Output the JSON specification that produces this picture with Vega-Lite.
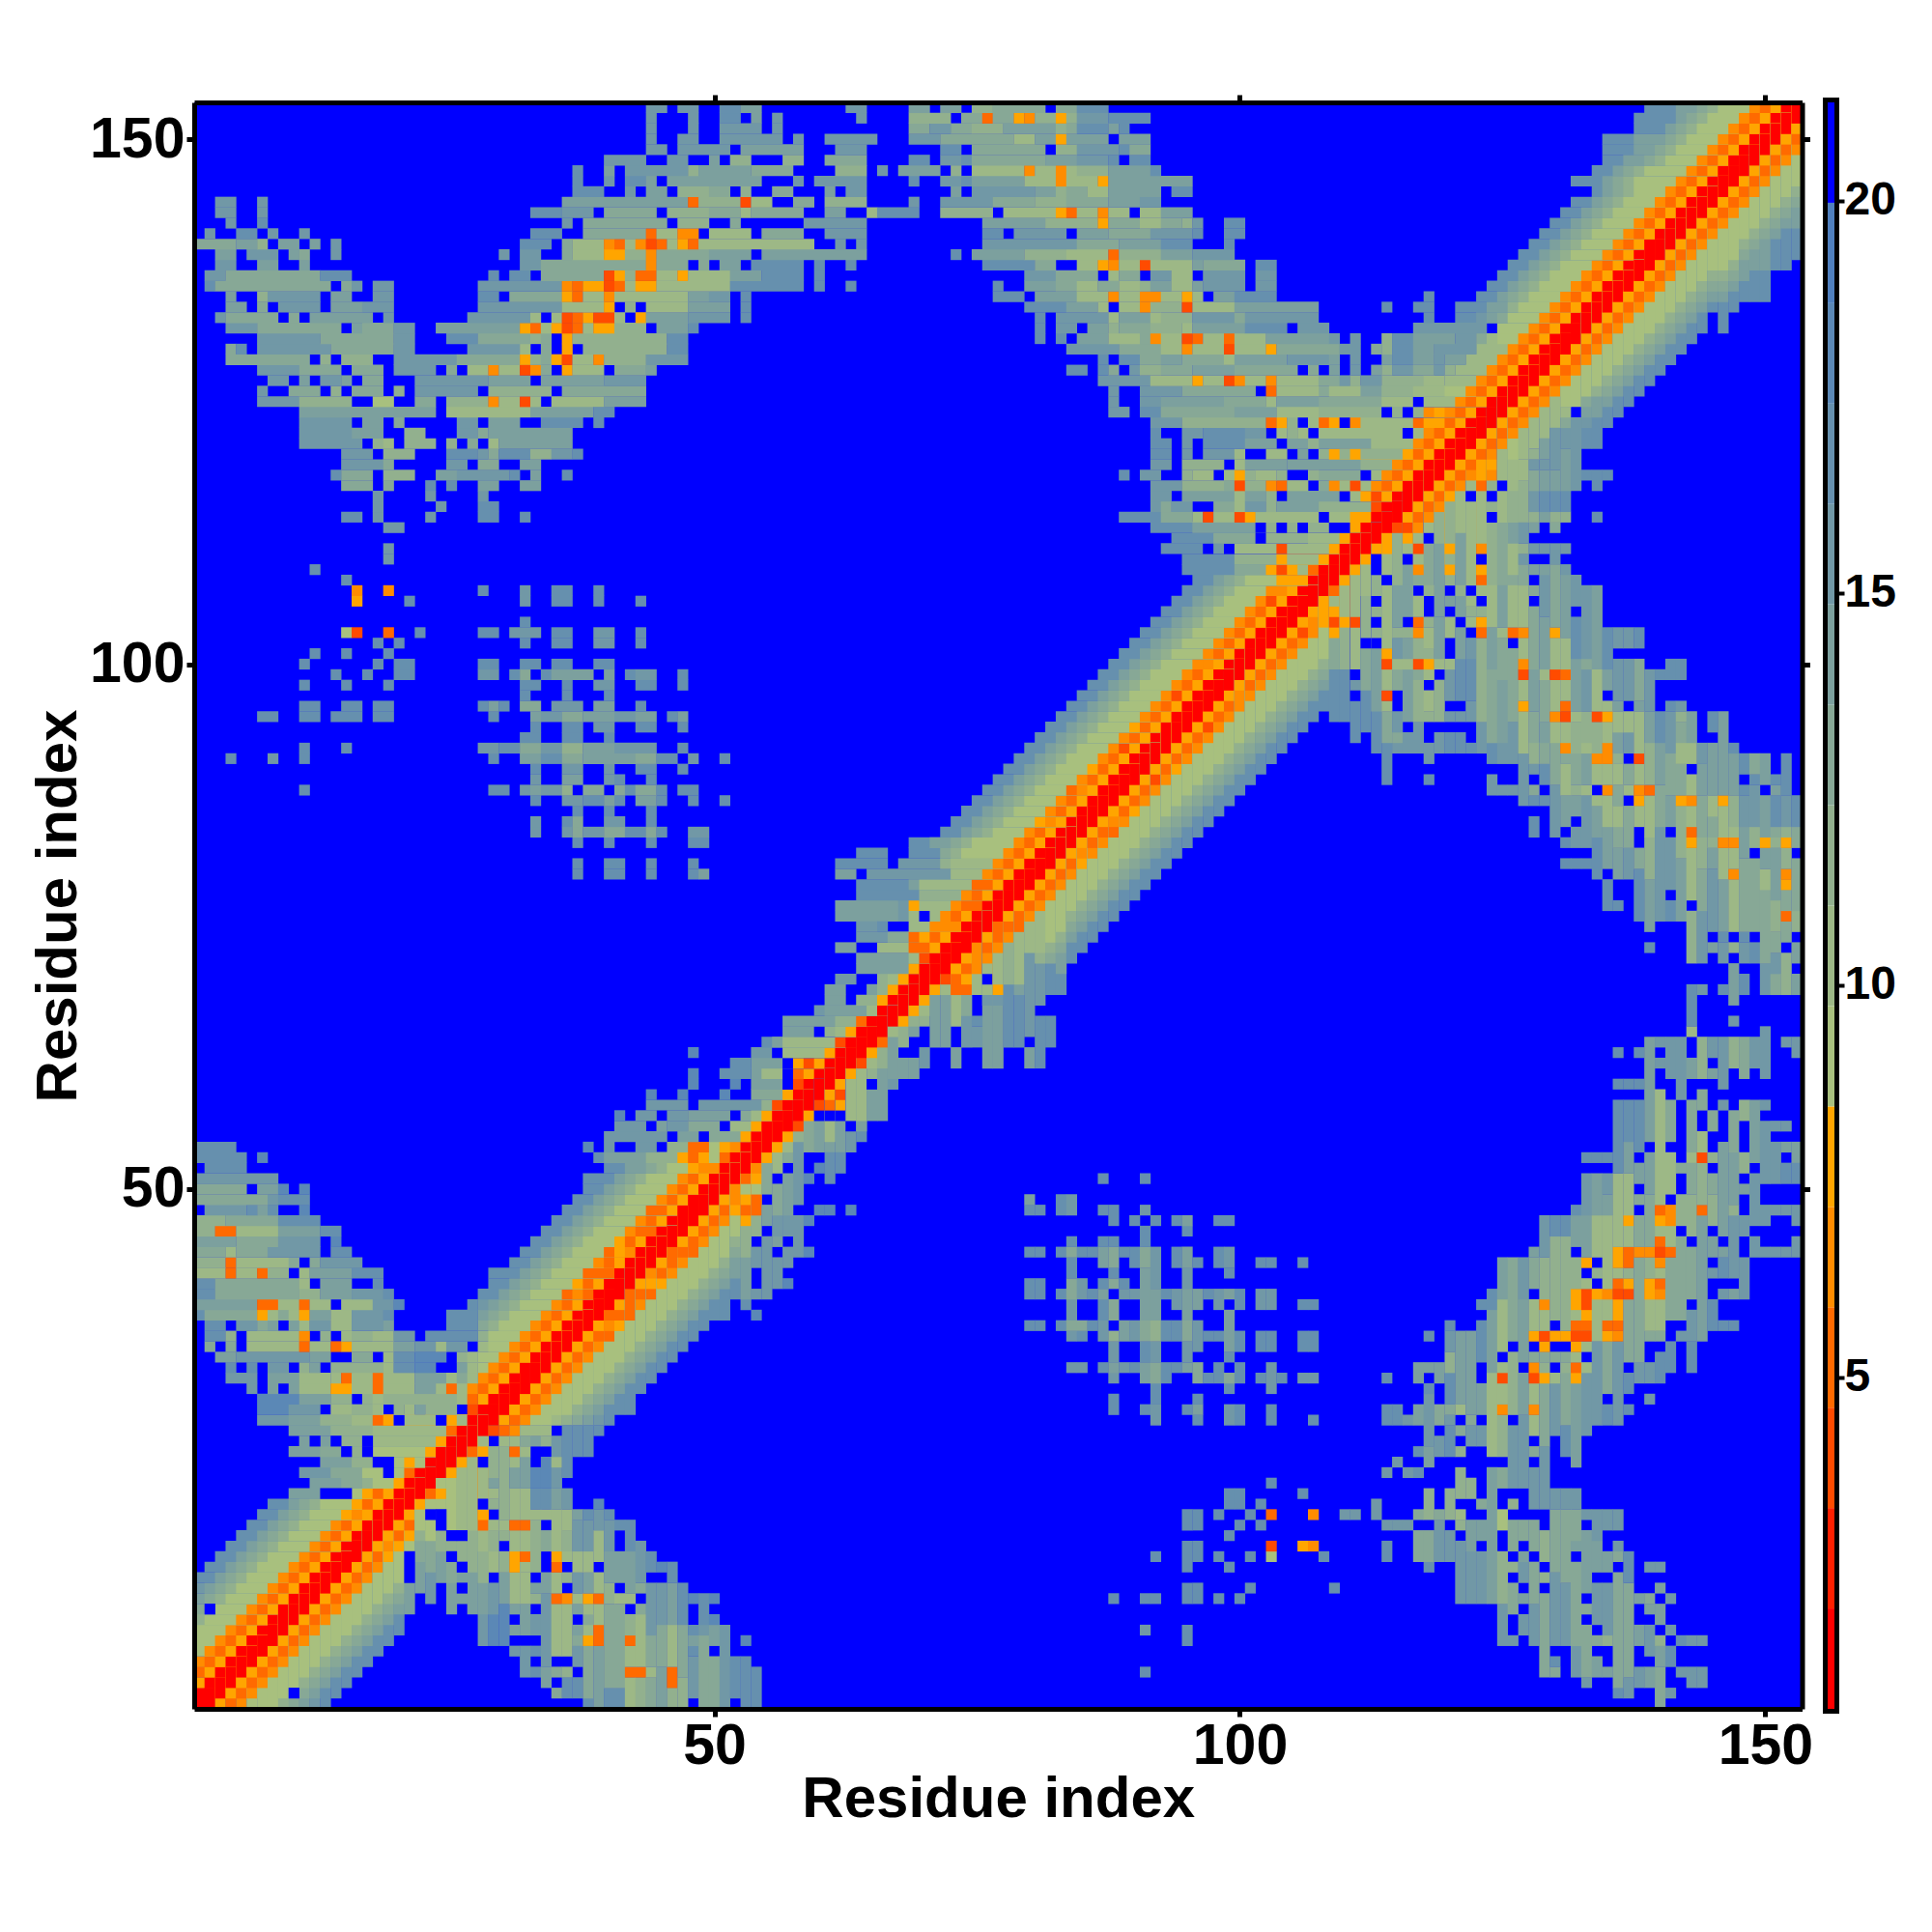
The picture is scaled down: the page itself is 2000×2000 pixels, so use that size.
{"$schema":"https://vega.github.io/schema/vega-lite/v6.json","background":"white","padding":{"left":30,"top":95,"right":0,"bottom":0},"spacing":10,"config":{"view":{"stroke":null},"axis":{"labelFont":"Liberation Sans","labelFontWeight":"bold","titleFont":"Liberation Sans","titleFontWeight":"bold","grid":false,"tickColor":"black","domainColor":"black","labelColor":"black","titleColor":"black"}},
"datasets":{
"band":[
{"y":1,"r":[[1,1]]},{"y":2,"r":[[1,1]]},{"y":3,"r":[[1,8],[2,1]]},{"y":4,"r":[[1,5],[2,8],[3,1]]},{"y":5,"r":[[1,7],[2,5],[3,8],[4,1]]},{"y":6,"r":[[1,9],[2,7],[3,5],[4,8],[5,1]]},{"y":7,"r":[[1,9],[3,7],[4,5],[5,8],[6,1]]},{"y":8,"r":[[1,9],[4,7],[5,5],[6,8],[7,1]]},{"y":9,"r":[[1,12],[2,9],[5,7],[6,5],[7,8],[8,1]]},{"y":10,"r":[[1,13],[2,12],[3,9],[6,7],[7,5],[8,8],[9,1]]},{"y":11,"r":[[1,14],[2,13],[3,12],[4,9],[7,7],[8,5],[9,8],[10,1]]},{"y":12,"r":[[1,15],[2,14],[3,13],[4,12],[5,9],[8,7],[9,5],[10,8],[11,1]]},
{"y":13,"r":[[1,17],[3,14],[4,13],[5,12],[6,9],[9,7],[10,5],[11,8],[12,1]]},{"y":14,"r":[[2,17],[4,14],[5,13],[6,12],[7,9],[10,7],[11,5],[12,8],[13,1]]},{"y":15,"r":[[3,17],[5,14],[6,13],[7,12],[8,9],[11,7],[12,5],[13,8],[14,1]]},{"y":16,"r":[[4,17],[6,14],[7,13],[8,12],[9,9],[12,7],[13,5],[14,8],[15,1]]},{"y":17,"r":[[5,17],[7,14],[8,13],[9,12],[10,9],[13,7],[14,5],[15,8],[16,1]]},{"y":18,"r":[[6,17],[8,14],[9,13],[10,12],[11,9],[14,7],[15,5],[16,8],[17,1]]},{"y":19,"r":[[7,17],[9,14],[10,13],[11,12],[12,9],[15,8],[16,7],[17,8],[18,1]]},{"y":20,"r":[[8,17],[10,14],[11,13],[12,12],[13,9],[16,8],[17,5],[18,8],[19,1]]},
{"y":21,"r":[[10,14],[13,13],[16,9],[17,8],[18,5],[19,8],[20,1]]},{"y":22,"r":[[12,14],[15,13],[17,12],[18,9],[20,8],[21,1]]},{"y":23,"r":[[11,15],[14,13],[17,9],[21,5],[22,1]]},{"y":24,"r":[[13,14],[16,12],[20,9],[21,8],[22,9],[23,1]]},{"y":25,"r":[[10,14],[13,13],[16,12],[18,9],[23,8],[24,1]]},{"y":26,"r":[[11,14],[15,12],[18,10],[24,8],[25,1]]},{"y":27,"r":[[10,14],[14,12],[18,10],[25,5],[26,1]]},{"y":28,"r":[[7,15],[10,14],[13,12],[16,10],[18,5],[19,8],[20,10],[25,8],[26,10],[27,1]]},
{"y":29,"r":[[28,1]]},{"y":30,"r":[[28,8],[29,1]]},{"y":31,"r":[[28,5],[29,8],[30,1]]},{"y":32,"r":[[28,7],[29,5],[30,8],[31,1]]},{"y":33,"r":[[28,9],[29,7],[30,5],[31,8],[32,1]]},{"y":34,"r":[[28,9],[30,7],[31,5],[32,8],[33,1]]},{"y":35,"r":[[28,10],[29,9],[31,7],[32,5],[33,8],[34,1]]},{"y":36,"r":[[28,12],[29,9],[32,7],[33,5],[34,8],[35,1]]},{"y":37,"r":[[28,13],[29,12],[30,9],[33,7],[34,5],[35,8],[36,1]]},{"y":38,"r":[[28,14],[29,13],[30,12],[31,9],[34,7],[35,5],[36,8],[37,1]]},{"y":39,"r":[[28,15],[29,14],[30,13],[31,12],[32,9],[35,7],[36,5],[37,8],[38,1]]},
{"y":40,"r":[[28,17],[30,14],[31,13],[32,12],[33,9],[36,5],[37,7],[38,5],[39,1]]},{"y":41,"r":[[29,17],[31,14],[32,13],[33,12],[34,9],[37,8],[38,5],[39,8],[40,1]]},{"y":42,"r":[[29,17],[32,14],[33,13],[34,12],[35,9],[38,5],[41,1]]},{"y":43,"r":[[31,17],[33,14],[34,13],[35,12],[36,9],[39,7],[40,5],[41,8],[42,1]]},{"y":44,"r":[[32,17],[34,14],[35,13],[36,12],[37,9],[40,5],[41,8],[42,7],[43,1]]},{"y":45,"r":[[33,17],[35,14],[36,13],[37,12],[38,9],[41,8],[42,5],[43,8],[44,1]]},{"y":46,"r":[[34,17],[36,14],[37,13],[38,12],[39,9],[42,7],[43,5],[45,1]]},{"y":47,"r":[[35,17],[37,14],[38,13],[39,12],[40,9],[43,7],[44,5],[45,8],[46,1]]},{"y":48,"r":[[36,17],[38,14],[39,13],[40,12],[41,9],[44,5],[46,8],[47,1]]},{"y":49,"r":[[37,17],[39,14],[40,13],[41,12],[42,9],[45,7],[46,5],[47,8],[48,1]]},{"y":50,"r":[[38,17],[40,14],[41,13],[42,12],[43,9],[46,7],[47,5],[48,8],[49,1]]},{"y":51,"r":[[38,17],[41,14],[42,13],[43,12],[44,9],[47,7],[48,5],[49,8],[50,1]]},{"y":52,"r":[[40,17],[42,14],[44,13],[45,12],[46,9],[48,8],[49,7],[51,1]]},
{"y":53,"r":[[39,17],[40,14],[44,12],[47,8],[48,5],[49,8],[50,9],[51,5],[52,1]]},{"y":54,"r":[[46,12],[48,5],[50,9],[51,8],[52,7],[53,1]]},{"y":55,"r":[[50,13],[53,8],[54,1]]},{"y":56,"r":[[52,11],[54,8],[55,1]]},{"y":57,"r":[[53,13],[54,11],[55,8],[56,1]]},{"y":58,"r":[[49,15],[55,12],[56,4],[57,1]]},{"y":59,"r":[[54,13],[57,8],[58,1]]},{"y":60,"r":[[54,14],[57,21],[58,4],[59,1]]},{"y":61,"r":[[54,14],[55,11],[57,21],[58,5],[59,8],[60,1]]},{"y":62,"r":[[54,14],[57,21],[58,8],[59,4],[60,8],[61,1]]},{"y":63,"r":[[54,15],[56,21],[57,11],[61,8],[62,1]]},{"y":64,"r":[[55,17],[56,14],[57,11],[62,4],[63,1]]},{"y":65,"r":[[57,14],[60,21],[61,12],[62,11],[63,8],[64,1]]},{"y":66,"r":[[57,14],[62,12],[64,5],[65,1]]},{"y":67,"r":[[60,15],[61,14],[65,11],[66,1]]},{"y":68,"r":[[64,12],[66,8],[67,1]]},{"y":69,"r":[[65,14],[66,12],[67,8],[68,1]]},{"y":70,"r":[[66,12],[67,10],[68,8],[69,1]]},{"y":71,"r":[[64,14],[69,8],[70,1]]},{"y":72,"r":[[64,14],[69,10],[70,4],[71,1]]},{"y":73,"r":[[66,10],[69,5],[71,8],[72,1]]},{"y":74,"r":[[64,15],[67,13],[69,5],[70,8],[71,5],[72,8],[73,1]]},{"y":75,"r":[[69,10],[71,7],[74,1]]},{"y":76,"r":[[62,14],[68,15],[69,10],[70,21],[71,10],[72,7],[73,5],[74,8],[75,1]]},{"y":77,"r":[[62,14],[68,15],[69,8],[70,10],[73,7],[74,5],[76,1]]},{"y":78,"r":[[64,17],[70,12],[74,7],[75,5],[76,8],[77,1]]},{"y":79,"r":[[64,17],[69,14],[70,11],[75,5],[77,8],[78,1]]},{"y":80,"r":[[65,15],[73,10],[76,7],[77,5],[78,8],[79,1]]},{"y":81,"r":[[68,15],[72,12],[73,10],[77,7],[78,5],[79,8],[80,1]]},{"y":82,"r":[[69,17],[72,13],[73,12],[74,9],[78,7],[79,5],[80,8],[81,1]]},{"y":83,"r":[[69,17],[71,14],[73,13],[74,12],[75,9],[79,7],[80,5],[81,8],[82,1]]},
{"y":84,"r":[[72,17],[74,14],[75,13],[76,12],[77,9],[80,7],[81,5],[82,8],[83,1]]},{"y":85,"r":[[73,17],[75,14],[76,13],[77,12],[78,9],[81,8],[82,7],[83,8],[84,1]]},{"y":86,"r":[[74,17],[76,14],[77,13],[78,12],[79,9],[82,7],[83,5],[84,8],[85,1]]},{"y":87,"r":[[75,17],[77,14],[78,13],[79,12],[80,9],[83,7],[84,5],[85,8],[86,1]]},{"y":88,"r":[[76,17],[78,14],[79,13],[80,12],[81,9],[84,5],[85,7],[86,8],[87,1]]},{"y":89,"r":[[77,17],[79,14],[80,13],[81,12],[82,9],[85,7],[86,5],[87,8],[88,1]]},{"y":90,"r":[[78,17],[80,14],[81,13],[82,12],[83,9],[86,8],[87,5],[88,8],[89,1]]},{"y":91,"r":[[79,17],[81,14],[82,13],[83,12],[84,9],[87,7],[88,5],[89,8],[90,1]]},{"y":92,"r":[[80,17],[82,14],[83,13],[84,12],[85,9],[88,7],[89,4],[90,8],[91,1]]},{"y":93,"r":[[81,17],[83,14],[84,13],[85,12],[86,9],[89,7],[90,5],[91,8],[92,1]]},{"y":94,"r":[[82,17],[84,14],[85,13],[86,12],[87,9],[90,8],[91,5],[92,8],[93,1]]},{"y":95,"r":[[83,17],[85,14],[86,13],[87,12],[88,9],[91,7],[92,5],[93,8],[94,1]]},{"y":96,"r":[[84,17],[86,14],[87,13],[88,12],[89,9],[92,7],[93,5],[94,8],[95,1]]},{"y":97,"r":[[85,17],[87,14],[88,13],[89,12],[90,9],[93,7],[94,4],[95,8],[96,1]]},{"y":98,"r":[[86,17],[88,14],[89,13],[90,12],[91,9],[94,7],[95,5],[96,8],[97,1]]},{"y":99,"r":[[87,17],[89,14],[90,13],[91,12],[92,9],[95,7],[96,5],[97,8],[98,1]]},{"y":100,"r":[[88,17],[90,14],[91,13],[92,12],[93,9],[96,7],[97,7],[98,8],[99,1]]},{"y":101,"r":[[89,17],[91,14],[92,13],[93,12],[94,9],[97,7],[98,5],[99,8],[100,1]]},{"y":102,"r":[[90,17],[92,14],[93,13],[94,12],[95,9],[98,7],[99,5],[100,8],[101,1]]},{"y":103,"r":[[91,17],[93,14],[94,13],[95,12],[96,9],[99,7],[100,5],[101,8],[102,1]]},{"y":104,"r":[[92,17],[94,14],[95,13],[96,12],[97,9],[100,7],[101,5],[102,8],[103,1]]},{"y":105,"r":[[93,17],[95,14],[96,13],[97,12],[98,9],[101,7],[102,5],[103,8],[104,1]]},{"y":106,"r":[[94,17],[96,14],[97,13],[98,12],[99,9],[102,7],[103,4],[104,8],[105,1]]},{"y":107,"r":[[95,17],[97,14],[98,13],[99,12],[100,9],[103,7],[105,8],[106,1]]},{"y":108,"r":[[96,17],[98,14],[99,13],[100,12],[101,9],[104,8],[107,1]]},
{"y":109,"r":[[95,17],[100,13],[103,8],[104,4],[105,8],[106,10],[107,5],[108,1]]},{"y":110,"r":[[95,17],[100,12],[104,8],[105,10],[108,8],[109,1]]},{"y":111,"r":[[93,17],[97,21],[98,15],[99,21],[100,11],[104,4],[105,10],[109,8],[110,1]]},{"y":112,"r":[[94,17],[98,13],[102,21],[103,12],[107,10],[110,8],[111,1]]},{"y":113,"r":[[92,17],[96,14],[102,21],[103,12],[104,21],[105,12],[106,21],[107,12],[109,21],[111,8],[112,1]]},{"y":114,"r":[[108,21],[109,10],[111,8],[113,1]]},{"y":115,"r":[[108,12],[113,4],[114,1]]},{"y":116,"r":[[108,14],[110,21],[111,11],[112,8],[113,4],[114,8],[115,1]]},{"y":117,"r":[[108,13],[109,7],[110,11],[111,4],[112,11],[113,7],[114,5],[115,8],[116,1]]},{"y":118,"r":[[108,13],[112,21],[113,11],[114,7],[115,5],[116,8],[117,1]]},{"y":119,"r":[[105,14],[112,12],[115,7],[116,5],[117,8],[118,1]]},{"y":120,"r":[[108,12],[109,8],[110,12],[111,8],[112,12],[116,8],[117,5],[118,8],[119,1]]},{"y":121,"r":[[108,14],[113,11],[117,7],[118,5],[119,8],[120,1]]},{"y":122,"r":[[108,11],[116,21],[117,10],[118,7],[119,5],[120,8],[121,1]]},{"y":123,"r":[[108,5],[109,8],[110,21],[111,7],[112,11],[117,5],[118,8],[120,5],[121,8],[122,1]]},{"y":124,"r":[[108,12],[114,21],[115,12],[116,21],[117,12],[118,7],[119,8],[120,7],[121,5],[122,8],[123,1]]},{"y":125,"r":[[108,13],[114,11],[117,21],[118,10],[121,7],[122,5],[123,8],[124,1]]},{"y":126,"r":[[108,13],[109,10],[112,14],[114,12],[117,11],[120,9],[122,7],[123,5],[124,8],[125,1]]},
{"y":127,"r":[[120,10],[123,7],[124,5],[125,8],[126,1]]},{"y":128,"r":[[121,10],[124,7],[125,5],[126,8],[127,1]]},{"y":129,"r":[[122,10],[125,7],[126,5],[127,8],[128,1]]},{"y":130,"r":[[123,10],[126,7],[127,5],[128,8],[129,1]]},{"y":131,"r":[[125,9],[127,7],[128,5],[129,8],[130,1]]},{"y":132,"r":[[125,9],[128,7],[129,5],[130,8],[131,1]]},{"y":133,"r":[[121,17],[123,15],[124,14],[125,13],[126,9],[129,7],[130,5],[131,8],[132,1]]},{"y":134,"r":[[121,17],[124,14],[126,12],[127,9],[130,7],[131,5],[132,8],[133,1]]},{"y":135,"r":[[123,17],[125,14],[126,13],[127,12],[128,9],[131,7],[132,5],[133,8],[134,1]]},{"y":136,"r":[[124,17],[126,14],[127,13],[128,12],[129,9],[132,7],[133,5],[134,8],[135,1]]},{"y":137,"r":[[125,17],[127,14],[128,13],[129,12],[130,9],[133,7],[134,5],[135,8],[136,1]]},{"y":138,"r":[[126,17],[128,14],[129,13],[130,12],[131,9],[134,7],[135,5],[136,8],[137,1]]},{"y":139,"r":[[127,17],[129,14],[130,13],[131,12],[132,9],[135,7],[136,5],[137,8],[138,1]]},{"y":140,"r":[[128,17],[130,14],[131,13],[132,12],[133,9],[136,7],[137,5],[138,8],[139,1]]},{"y":141,"r":[[129,17],[131,14],[132,13],[133,12],[134,9],[137,7],[138,5],[139,8],[140,1]]},{"y":142,"r":[[130,17],[132,14],[133,13],[134,12],[135,9],[138,7],[139,5],[140,8],[141,1]]},{"y":143,"r":[[131,17],[133,14],[134,13],[135,12],[136,9],[139,7],[140,5],[141,8],[142,1]]},{"y":144,"r":[[132,17],[134,14],[135,13],[136,12],[137,9],[140,7],[141,5],[142,8],[143,1]]},{"y":145,"r":[[134,17],[135,14],[136,13],[137,12],[138,9],[141,7],[142,5],[143,8],[144,1]]},{"y":146,"r":[[132,17],[135,14],[136,13],[137,12],[138,9],[142,7],[143,5],[144,8],[145,1]]},{"y":147,"r":[[134,17],[136,14],[137,13],[138,12],[139,9],[143,7],[144,5],[145,8],[146,1]]},{"y":148,"r":[[135,17],[137,14],[139,13],[140,12],[141,9],[144,7],[145,5],[146,8],[147,1]]},{"y":149,"r":[[135,17],[138,14],[140,13],[141,12],[142,9],[145,7],[146,5],[147,8],[148,1]]},{"y":150,"r":[[135,17],[138,14],[141,13],[142,12],[143,9],[146,7],[147,5],[148,8],[149,1]]},{"y":151,"r":[[138,17],[141,14],[142,13],[143,12],[144,9],[147,7],[148,5],[149,8],[150,1]]},{"y":152,"r":[[138,17],[142,14],[143,13],[144,12],[145,9],[148,7],[149,5],[150,8],[151,1]]},{"y":153,"r":[[139,17],[142,14],[144,13],[145,12],[146,9],[149,7],[150,5],[151,8],[152,1]]}
],
"cells":[
{"y":10,"r":[[2,2,21]]},{"y":21,"r":[[13,15,21]]},{"y":23,"r":[[19,19,21]]},{"y":24,"r":[[18,19,21]]},{"y":25,"r":[[15,15,21],[17,17,21]]},{"y":26,"r":[[12,12,21],[14,14,21],[17,17,21]]},{"y":28,"r":[[20,20,21],[24,24,21]]},
{"y":29,"r":[[7,9,18],[10,12,15],[14,15,10],[16,17,12],[18,18,10],[20,20,12],[21,21,10],[22,22,14],[23,25,12],[27,27,4]]},
{"y":30,"r":[[7,10,18],[11,13,14],[14,15,12],[17,17,12],[18,18,10],[19,25,12],[26,26,10],[27,27,5]]},
{"y":31,"r":[[6,6,15],[8,8,14],[10,10,14],[11,13,11],[14,15,8],[16,17,11],[18,18,5],[19,21,11],[22,23,14],[24,24,10],[25,25,5],[26,26,11],[27,27,7]]},
{"y":32,"r":[[4,6,15],[8,10,14],[11,13,11],[14,14,10],[15,15,5],[16,17,11],[18,18,5],[19,21,11],[22,24,14],[25,25,11],[26,26,13],[27,27,10]]},
{"y":33,"r":[[4,4,17],[6,6,17],[8,9,15],[11,11,12],[12,12,14],[14,18,12],[19,19,11],[20,21,17],[22,23,18],[26,26,14],[27,27,10]]},
{"y":34,"r":[[3,4,14],[5,11,15],[12,13,14],[16,17,13],[19,19,11],[20,21,17],[22,24,18],[26,26,12],[27,27,10]]},
{"y":35,"r":[[2,2,13],[4,4,13],[6,10,11],[11,11,5],[12,13,11],[14,14,5],[15,15,8],[16,19,10],[20,21,14],[22,23,15],[24,24,11],[25,26,15]]},
{"y":36,"r":[[2,3,17],[4,4,12],[6,10,11],[11,11,7],[13,13,12],[15,15,10],[16,17,12],[18,19,10],[20,21,15],[23,27,17]]},
{"y":37,"r":[[2,3,17],[5,6,15],[7,7,13],[8,8,14],[10,10,14],[11,11,11],[12,13,15],[14,15,11],[16,18,15],[19,19,14],[25,27,17]]},
{"y":38,"r":[[1,1,17],[2,6,13],[7,7,8],[8,8,11],[9,9,13],[10,10,11],[11,11,8],[12,13,14],[14,15,11],[16,18,15],[19,19,17],[25,27,17]]},
{"y":39,"r":[[1,6,14],[7,8,5],[9,10,10],[11,11,5],[12,13,10],[15,17,11],[18,19,15],[20,20,18],[27,27,17]]},
{"y":40,"r":[[1,2,17],[3,10,13],[11,12,12],[13,15,14],[16,18,15],[19,19,17]]},
{"y":41,"r":[[1,2,17],[3,10,13],[11,11,11],[13,15,14],[18,18,17]]},
{"y":42,"r":[[1,3,11],[4,4,5],[5,6,11],[7,7,5],[8,9,12],[11,11,11],[12,15,14],[16,18,17]]},
{"y":43,"r":[[1,3,12],[4,4,5],[5,9,11],[10,10,13],[12,12,13],[13,16,15]]},
{"y":44,"r":[[1,3,13],[4,4,11],[5,7,13],[8,12,15],[14,15,17]]},
{"y":45,"r":[[1,4,14],[5,8,13],[9,12,15],[14,14,18]]},
{"y":46,"r":[[1,2,12],[3,4,5],[5,8,11],[9,12,14],[13,14,17]]},
{"y":47,"r":[[1,3,12],[4,8,13],[9,12,17]]},
{"y":48,"r":[[2,5,15],[6,6,17],[7,7,14],[8,8,17],[11,11,18]]},
{"y":49,"r":[[1,7,13],[8,8,15],[9,11,17]]},
{"y":50,"r":[[1,5,13],[7,8,14],[9,9,18],[11,11,18]]},
{"y":51,"r":[[1,8,15]]},{"y":52,"r":[[2,5,17]]},{"y":53,"r":[[1,5,17],[7,7,18]]},
{"y":54,"r":[[1,4,17],[38,38,18],[40,40,15],[43,44,15]]},
{"y":55,"r":[[40,45,15],[47,48,14]]},
{"y":56,"r":[[41,43,15],[45,45,14],[46,47,15],[48,50,13]]},
{"y":57,"r":[[41,41,18],[43,44,15],[46,47,15],[48,51,14]]},
{"y":58,"r":[[44,47,15]]},
{"y":59,"r":[[44,44,18],[47,47,18],[51,51,18]]},{"y":60,"r":[[48,48,18],[52,52,18]]},{"y":61,"r":[[48,48,18],[51,53,17]]},{"y":62,"r":[[52,53,17]]},{"y":63,"r":[[48,48,18]]},
{"y":68,"r":[[61,62,14]]},{"y":69,"r":[[61,62,14]]},{"y":70,"r":[[62,63,15]]},{"y":73,"r":[[62,63,14]]},{"y":75,"r":[[64,65,15],[66,66,17]]},{"y":80,"r":[[37,37,17],[40,41,17],[44,44,17],[48,48,17],[49,49,14],[62,63,14]]},{"y":81,"r":[[37,37,17],[40,41,17],[44,44,17],[48,48,17],[62,66,17]]},{"y":82,"r":[[64,66,17]]},
{"y":83,"r":[[37,37,17],[40,40,17],[44,44,17],[48,49,17]]},
{"y":84,"r":[[33,33,15],[36,36,15],[37,37,13],[38,39,15],[40,41,13],[42,43,17],[44,44,13],[45,45,17],[48,49,15]]},
{"y":85,"r":[[33,33,15],[36,36,17],[37,37,13],[40,41,15],[44,44,17]]},
{"y":86,"r":[[37,37,17],[40,40,17],[44,44,17]]},
{"y":87,"r":[[33,33,17],[36,37,15],[38,39,17],[40,40,14],[41,41,17],[43,44,14],[45,45,17],[48,48,17],[51,51,17]]},
{"y":88,"r":[[11,11,17],[29,30,17],[32,32,15],[33,33,14],[34,35,15],[36,36,12],[38,39,13],[41,41,13],[42,42,17],[43,44,13],[45,45,17],[47,48,17]]},
{"y":89,"r":[[33,33,15],[36,37,14],[40,40,15],[41,41,17],[44,44,17]]},
{"y":90,"r":[[33,33,17],[36,37,15],[40,40,15],[43,44,17],[47,47,17]]},
{"y":91,"r":[[4,4,17],[8,8,15],[11,11,17],[29,29,17],[32,33,14],[34,35,17],[36,37,13],[38,42,14],[43,44,13],[45,46,17],[48,48,15],[51,51,17]]},
{"y":92,"r":[[11,11,17],[15,15,17],[28,29,15],[30,31,17],[32,33,13],[34,35,15],[36,37,12],[38,40,14],[41,44,15],[47,47,17]]},
{"y":93,"r":[[32,33,17],[36,37,17],[40,40,17]]},
{"y":94,"r":[[33,33,17],[36,37,17],[39,40,15],[43,44,17],[47,47,17]]},
{"y":95,"r":[[7,8,17],[11,12,17],[14,16,17],[18,19,17],[29,29,17],[33,33,14],[34,35,15],[36,37,13],[38,40,14],[41,42,15],[43,44,14],[46,46,17],[47,47,14]]},
{"y":96,"r":[[11,12,17],[15,16,17],[18,19,17],[28,28,17],[29,29,14],[30,30,17],[32,33,13],[35,37,15],[39,40,14],[43,43,17]]},
{"y":97,"r":[[32,32,17],[36,36,17],[40,40,17]]},
{"y":98,"r":[[11,11,17],[15,15,17],[19,19,17],[32,33,17],[36,36,17],[39,40,15],[43,44,17],[47,47,17]]},
{"y":99,"r":[[14,14,17],[17,17,17],[20,21,17],[28,29,15],[31,31,17],[32,32,13],[34,34,17],[35,38,14],[40,40,14],[42,42,17],[43,44,15],[47,47,17]]},
{"y":100,"r":[[11,11,17],[18,18,17],[20,21,17],[28,29,17],[32,33,17],[35,36,17],[39,40,17]]},
{"y":101,"r":[[12,12,17],[15,15,17],[19,19,17]]},
{"y":102,"r":[[18,18,17],[20,20,17],[32,32,17],[35,36,17],[39,40,15],[43,43,17]]},
{"y":103,"r":[[15,15,9],[16,16,4],[19,19,5],[22,22,17],[28,29,17],[31,33,15],[35,36,17],[39,40,15],[43,43,17]]},
{"y":104,"r":[[32,32,17]]},
{"y":106,"r":[[16,16,8],[21,21,17],[32,32,15],[35,36,17],[39,39,17],[43,43,17]]},
{"y":107,"r":[[16,16,7],[19,19,7],[28,28,17],[32,32,15],[35,36,17],[39,39,17]]},
{"y":108,"r":[[15,15,17]]},{"y":109,"r":[[12,12,17]]},{"y":110,"r":[[19,19,15]]},{"y":111,"r":[[19,19,15]]},
{"y":113,"r":[[19,20,15]]},
{"y":114,"r":[[15,16,17],[18,18,15],[23,23,15],[28,29,17],[32,32,17],[89,92,17],[93,95,13],[96,96,10],[97,97,4],[98,99,11],[100,100,4],[101,101,8],[102,107,11]]},
{"y":115,"r":[[18,18,15],[24,24,15],[28,29,17],[92,92,15],[93,93,13],[94,95,15],[98,99,13],[100,100,11],[101,102,15],[103,103,12],[104,107,14]]},
{"y":116,"r":[[18,18,15],[23,23,15],[28,28,15],[92,93,15],[95,99,14],[100,100,11],[101,102,14],[103,103,12],[105,107,14]]},
{"y":117,"r":[[15,17,13],[19,19,13],[23,23,17],[25,25,17],[28,29,14],[32,33,14],[92,94,15],[95,98,12],[99,99,13],[100,100,4],[101,102,12],[103,103,7],[104,104,5],[105,106,11]]},
{"y":118,"r":[[14,14,17],[15,17,13],[19,21,12],[24,25,14],[26,30,15],[31,31,17],[33,33,14],[36,36,17],[89,89,17],[91,92,15],[95,95,12],[96,97,11],[99,99,11],[100,100,8],[101,101,12],[102,103,11],[104,104,12],[107,107,12]]},
{"y":119,"r":[[15,18,15],[19,19,13],[25,26,15],[28,29,13],[32,33,14],[92,93,15],[95,98,12],[100,100,11],[101,104,14]]},
{"y":120,"r":[[15,17,15],[19,21,12],[25,27,17],[28,28,15],[29,29,13],[30,32,17],[33,34,12],[35,36,15],[37,37,17],[92,93,17],[95,95,15],[97,99,15],[100,100,11],[103,104,11],[106,106,14]]},
{"y":121,"r":[[11,16,15],[18,18,12],[19,19,10],[21,23,12],[25,25,12],[27,27,13],[29,29,10],[30,36,14],[92,93,17],[95,95,15],[97,100,17],[101,103,14],[105,106,14],[107,107,12]]},
{"y":122,"r":[[11,15,15],[16,18,14],[21,22,12],[26,27,15],[28,28,13],[29,36,14],[92,92,17],[95,96,15],[97,100,17],[101,102,15],[104,104,11],[105,105,12],[106,106,11]]},
{"y":123,"r":[[11,15,15],[17,18,14],[20,20,13],[26,27,15],[29,31,14],[34,37,17],[39,39,17],[92,94,15],[95,102,12],[103,103,5],[104,104,8],[105,105,12],[107,107,11]]},
{"y":124,"r":[[11,23,14],[25,32,11],[33,38,14],[39,40,17],[88,89,15],[91,92,17],[93,99,13],[100,103,14],[104,107,11]]},
{"y":125,"r":[[7,10,15],[11,15,12],[18,19,9],[22,23,13],[25,28,12],[29,29,7],[30,31,11],[32,32,4],[33,33,11],[35,39,11],[40,43,14],[88,88,15],[91,92,15],[93,98,14],[99,102,13],[103,103,10],[104,107,14]]},
{"y":126,"r":[[7,7,15],[10,12,13],[14,14,12],[16,18,13],[20,20,12],[22,27,15],[29,34,12],[36,43,13],[88,88,15],[91,94,15],[95,101,13],[103,103,5],[104,107,11]]},
{"y":127,"r":[[8,9,15],[11,11,14],[13,14,15],[15,15,14],[17,18,13],[22,28,15],[29,32,14],[34,39,14],[40,43,15],[87,91,15],[92,95,11],[96,96,8],[97,98,11],[99,99,4],[100,100,7],[101,102,11],[103,103,7],[104,107,11],[108,109,13],[110,110,15],[111,111,12],[112,113,15],[114,117,12],[118,119,11]]},
{"y":128,"r":[[7,10,15],[11,14,13],[16,18,13],[20,23,15],[25,25,13],[27,28,11],[29,29,7],[30,31,11],[32,32,4],[33,33,7],[34,34,13],[36,36,8],[37,39,11],[41,43,13],[44,44,14],[84,85,17],[87,87,17],[88,88,13],[90,90,15],[91,92,12],[93,95,13],[96,99,14],[100,105,13],[107,107,13],[109,109,14],[111,111,15],[113,113,14],[114,114,12],[115,116,15],[117,118,13],[119,119,15],[120,120,12]]},
{"y":129,"r":[[4,11,13],[13,13,12],[15,17,12],[20,25,15],[26,31,13],[32,32,8],[33,33,12],[34,34,13],[35,35,8],[36,36,4],[37,38,11],[39,39,7],[40,43,12],[44,47,15],[87,87,17],[89,90,17],[91,92,13],[93,94,14],[95,98,13],[99,99,10],[100,104,14],[105,108,15],[109,109,14],[111,111,15],[114,114,14],[115,116,17],[117,118,14],[119,119,15],[120,121,14]]},
{"y":130,"r":[[4,4,13],[5,5,17],[7,13,15],[14,19,13],[20,21,15],[27,31,15],[32,32,11],[34,34,13],[36,36,8],[38,45,12],[46,47,17],[84,88,15],[89,92,13],[93,94,11],[95,95,7],[96,98,11],[99,99,4],[100,102,11],[103,103,8],[104,109,13],[110,111,15],[113,113,13],[114,114,12],[115,116,17],[117,118,14],[119,122,15]]},
{"y":131,"r":[[7,12,15],[13,19,13],[20,21,15],[25,27,17],[28,32,13],[33,33,12],[34,34,13],[36,36,8],[37,45,12],[46,47,17],[81,81,17],[83,83,17],[85,87,14],[88,90,11],[91,91,13],[92,92,7],[93,94,11],[95,95,4],[96,96,5],[97,98,11],[99,99,5],[100,102,11],[103,108,14],[109,109,15],[111,111,15],[114,114,12],[115,116,17],[117,120,14],[121,122,15],[123,123,13],[124,124,10]]},
{"y":132,"r":[[4,6,15],[7,14,13],[16,16,14],[17,19,13],[20,21,15],[24,31,14],[32,32,8],[33,33,5],[34,34,11],[35,35,8],[36,36,4],[37,37,5],[38,38,11],[39,40,8],[41,43,12],[45,47,14],[48,48,17],[81,81,17],[83,84,15],[86,87,14],[88,88,12],[89,91,13],[92,94,12],[95,95,11],[96,100,14],[101,104,17],[106,108,15],[117,123,15]]},
{"y":133,"r":[[3,3,15],[4,8,13],[10,10,13],[12,17,14],[19,19,15],[27,32,15],[33,33,11],[35,35,11],[36,36,4],[37,37,5],[38,38,8],[39,40,4],[41,41,11],[43,43,8],[44,47,14],[48,51,15],[53,53,17],[81,81,17],[83,87,15],[88,88,11],[89,91,14],[92,92,11],[93,95,12],[96,99,15],[100,100,13],[101,107,15],[118,118,17]]},
{"y":134,"r":[[4,5,14],[7,7,13],[9,12,15],[14,16,14],[17,19,15],[28,35,15],[36,39,11],[40,40,8],[42,42,12],[44,47,11],[48,51,14],[53,53,17],[80,83,17],[84,86,14],[87,87,11],[89,90,11],[91,91,7],[92,94,12],[95,95,4],[96,99,11],[100,107,14],[114,114,17],[117,118,17]]},
{"y":135,"r":[[4,4,14],[7,7,12],[8,12,15],[14,15,14],[18,19,15],[28,29,17],[31,35,13],[36,36,8],[37,37,5],[38,39,11],[40,40,7],[41,47,11],[48,49,14],[50,51,15],[53,53,17],[77,79,17],[81,84,14],[85,87,11],[88,88,7],[89,90,11],[91,92,7],[93,94,11],[95,95,8],[96,96,11],[98,99,14],[100,103,17],[118,118,17]]},
{"y":136,"r":[[2,2,17],[3,13,13],[15,15,13],[16,16,15],[18,19,15],[28,35,15],[36,36,7],[37,37,5],[38,39,8],[40,40,4],[41,41,5],[42,42,11],[43,44,8],[45,51,11],[52,58,17],[60,60,17],[63,63,17],[77,77,17],[80,82,14],[83,84,13],[85,86,11],[87,88,13],[89,90,11],[91,91,12],[92,93,14],[94,95,11],[96,96,14],[97,100,15],[102,103,15]]},
{"y":137,"r":[[2,3,15],[4,12,13],[13,15,17],[29,29,17],[31,32,17],[34,39,13],[40,40,4],[41,41,8],[42,42,12],[43,44,5],[45,46,11],[47,47,8],[48,51,11],[52,54,14],[55,58,17],[60,60,17],[80,82,15],[83,86,13],[88,88,11],[89,90,13],[92,93,15],[94,95,11],[97,100,15],[102,103,15]]},
{"y":138,"r":[[3,4,15],[7,8,14],[11,11,14],[32,33,15],[34,43,13],[44,44,7],[45,47,13],[49,49,13],[51,52,14],[54,58,17],[60,60,17],[63,63,17],[76,80,17],[81,82,13],[85,86,11],[87,87,8],[88,88,7],[89,90,11],[91,91,4],[92,95,11],[96,96,14],[97,100,13],[102,103,17]]},
{"y":139,"r":[[3,4,14],[6,8,15],[10,10,14],[11,11,13],[14,14,15],[30,30,15],[32,33,15],[36,36,13],[37,39,11],[40,41,8],[42,43,12],[44,44,7],[45,49,13],[50,53,14],[55,64,14],[73,73,17],[75,79,14],[80,83,12],[84,87,11],[88,88,5],[89,92,12],[93,95,14],[96,99,15]]},
{"y":140,"r":[[1,4,13],[5,6,14],[7,7,12],[9,10,14],[12,12,14],[14,14,15],[32,34,17],[36,36,13],[37,39,11],[40,40,7],[41,41,5],[42,42,11],[43,43,7],[44,44,4],[45,45,5],[46,46,11],[47,47,8],[48,48,5],[49,59,11],[62,62,15],[64,64,15],[76,84,15],[85,88,13],[89,92,14],[93,95,17],[99,99,17]]},
{"y":141,"r":[[2,2,15],[5,6,17],[8,8,15],[11,11,15],[33,35,17],[38,43,13],[44,44,5],[45,46,11],[47,48,7],[50,53,11],[55,58,13],[61,64,15],[76,77,17],[79,83,15],[85,87,14],[88,91,13],[92,95,15],[96,96,17],[99,100,17]]},
{"y":142,"r":[[4,4,15],[7,7,17],[36,36,15],[38,45,13],[47,49,12],[52,52,13],[59,64,15],[76,81,14],[82,86,12],[87,87,8],[88,90,13],[91,92,11],[93,94,13],[95,95,12],[96,96,15],[99,100,17]]},
{"y":143,"r":[[3,4,15],[7,7,15],[33,35,17],[36,38,15],[40,44,13],[46,49,12],[50,52,13],[53,53,11],[54,58,13],[61,62,14],[65,65,11],[66,69,17],[72,76,12],[78,82,11],[83,83,8],[84,84,5],[85,86,11],[87,87,7],[88,89,11],[91,92,11],[93,95,14]]},
{"y":144,"r":[[3,4,15],[7,7,15],[36,47,14],[48,48,5],[49,52,12],[53,53,4],[54,55,11],[58,59,13],[61,64,12],[69,69,15],[72,76,15],[77,80,13],[81,83,12],[84,87,13],[88,90,14],[91,92,15]]},
{"y":145,"r":[[37,39,17],[42,42,15],[44,45,14],[47,49,12],[50,51,13],[53,53,12],[56,57,13],[61,61,14],[63,64,15],[73,73,14],[75,80,15],[81,82,14],[83,83,12],[84,85,13],[86,87,11],[88,92,14],[94,95,17]]},
{"y":146,"r":[[37,37,17],[40,40,15],[42,43,17],[44,44,14],[46,54,14],[58,58,15],[60,64,15],[69,69,17],[72,73,15],[74,74,17],[75,79,14],[80,82,11],[83,83,7],[84,86,11],[87,87,8],[88,95,14]]},
{"y":147,"r":[[37,37,17],[40,40,14],[42,47,15],[48,48,12],[49,53,14],[54,57,13],[62,64,12],[66,66,15],[68,71,14],[73,73,12],[75,79,11],[80,80,7],[81,82,11],[83,83,7],[84,84,10],[85,87,12],[88,91,14],[92,92,17]]},
{"y":148,"r":[[40,43,15],[46,47,15],[50,50,14],[52,53,12],[57,58,12],[61,64,13],[69,70,17],[72,73,15],[74,74,17],[75,81,13],[82,84,14],[85,87,15],[88,88,17],[90,91,17]]},
{"y":149,"r":[[44,45,15],[47,51,15],[53,58,14],[62,64,15],[72,73,17],[75,81,13],[83,84,12],[85,88,15],[89,89,17],[90,91,13]]},
{"y":150,"r":[[44,44,15],[47,48,15],[51,56,15],[58,58,15],[61,65,15],[69,71,15],[72,78,13],[79,80,11],[81,82,14],[83,83,8],[84,87,14],[89,91,14]]},
{"y":151,"r":[[44,44,15],[48,48,15],[51,54,15],[56,56,15],[69,70,13],[71,72,15],[73,74,13],[75,77,12],[78,82,14],[83,83,12],[84,84,13],[85,87,17],[88,88,14],[89,89,17]]},
{"y":152,"r":[[44,44,15],[48,48,15],[51,52,17],[54,54,14],[56,56,15],[64,64,15],[69,72,12],[74,75,13],[76,76,5],[77,78,13],[79,79,8],[80,80,7],[81,82,12],[83,83,8],[84,84,12],[85,87,15],[88,91,17]]},
{"y":153,"r":[[44,45,15],[47,48,15],[51,52,17],[53,54,14],[63,64,15],[69,70,14],[72,73,14],[75,76,12],[77,81,13],[83,84,13],[85,87,17]]}
],
"bar":[{"lo":0.775,"hi":2.055,"v":1},{"lo":2.055,"hi":3.335,"v":3},{"lo":3.335,"hi":4.615,"v":4},{"lo":4.615,"hi":5.895,"v":5},{"lo":5.895,"hi":7.175,"v":7},{"lo":7.175,"hi":8.455,"v":8},{"lo":8.455,"hi":9.735,"v":9},{"lo":9.735,"hi":11.015,"v":10},{"lo":11.015,"hi":12.295,"v":12},{"lo":12.295,"hi":13.575,"v":13},{"lo":13.575,"hi":14.855,"v":14},{"lo":14.855,"hi":16.135,"v":15},{"lo":16.135,"hi":17.415,"v":17},{"lo":17.415,"hi":18.695,"v":18},{"lo":18.695,"hi":19.975,"v":19},{"lo":19.975,"hi":21.255,"v":21}]
},
"hconcat":[
{"width":1664.5,"height":1663,"view":{"fill":"#0000ff","stroke":null},
"resolve":{"axis":{"x":"independent","y":"independent"}},
"layer":[
{"data":{"name":"band"},"transform":[{"flatten":["r"]}],"mark":{"type":"rect","xOffset":-5.6,"x2Offset":5.6,"yOffset":-5.6,"y2Offset":5.6},
"encoding":{"x":{"field":"r[0]","type":"quantitative","scale":{"domain":[0.5,153.5],"nice":false,"zero":false},"axis":{"orient":"bottom","title":"Residue index","titleFontSize":60,"titlePadding":-4,"labelFontSize":59,"labelPadding":1,"values":[50,100,150],"tickSize":8,"tickWidth":5,"domainWidth":5,"labelFlush":false,"zindex":1}},"x2":{"field":"y"},"y":{"field":"y","type":"quantitative","scale":{"domain":[0.5,153.5],"nice":false,"zero":false},"axis":{"orient":"left","title":"Residue index","titleFontSize":60,"titlePadding":1,"labelFontSize":59,"labelPadding":2,"values":[50,100,150],"tickSize":8,"tickWidth":5,"domainWidth":5,"zindex":1}},"y2":{"field":"y"},"color":{"field":"r[1]","type":"quantitative","legend":null,"scale":{"type":"threshold","domain":[2.055,3.335,4.615,5.895,7.175,8.455,9.735,11.015,12.295,13.575,14.855,16.135,17.415,18.695,19.975],"range":["#ff0000","#ff2000","#ff4b00","#ff6a00","#ff8c00","#ffa500","#a8c07e","#9db886","#92b08e","#87a896","#7ca09e","#7198a6","#6690ae","#5b88b6","#5080be","#0000ff"]}}}},
{"data":{"name":"band"},"transform":[{"flatten":["r"]}],"mark":{"type":"rect","xOffset":-5.6,"x2Offset":5.6,"yOffset":5.6,"y2Offset":-5.6},
"encoding":{"x":{"field":"y","type":"quantitative","scale":{"domain":[0.5,153.5],"nice":false,"zero":false},"axis":{"orient":"top","title":null,"labels":false,"values":[50,100,150],"tickSize":8,"tickWidth":5,"domainWidth":5,"zindex":1}},"x2":{"field":"y"},"y":{"field":"r[0]","type":"quantitative","scale":{"domain":[0.5,153.5],"nice":false,"zero":false},"axis":{"orient":"right","title":null,"labels":false,"values":[50,100,150],"tickSize":8,"tickWidth":5,"domainWidth":5,"zindex":1}},"y2":{"field":"y"},"color":{"field":"r[1]","type":"quantitative","legend":null,"scale":{"type":"threshold","domain":[2.055,3.335,4.615,5.895,7.175,8.455,9.735,11.015,12.295,13.575,14.855,16.135,17.415,18.695,19.975],"range":["#ff0000","#ff2000","#ff4b00","#ff6a00","#ff8c00","#ffa500","#a8c07e","#9db886","#92b08e","#87a896","#7ca09e","#7198a6","#6690ae","#5b88b6","#5080be","#0000ff"]}}}},
{"data":{"name":"cells"},"transform":[{"flatten":["r"]}],"mark":{"type":"rect","xOffset":-5.6,"x2Offset":5.6,"yOffset":-5.6,"y2Offset":5.6},
"encoding":{"x":{"field":"r[0]","type":"quantitative","scale":{"domain":[0.5,153.5],"nice":false,"zero":false},"axis":null},"x2":{"field":"r[1]"},"y":{"field":"y","type":"quantitative","scale":{"domain":[0.5,153.5],"nice":false,"zero":false},"axis":null},"y2":{"field":"y"},"color":{"field":"r[2]","type":"quantitative","legend":null,"scale":{"type":"threshold","domain":[2.055,3.335,4.615,5.895,7.175,8.455,9.735,11.015,12.295,13.575,14.855,16.135,17.415,18.695,19.975],"range":["#ff0000","#ff2000","#ff4b00","#ff6a00","#ff8c00","#ffa500","#a8c07e","#9db886","#92b08e","#87a896","#7ca09e","#7198a6","#6690ae","#5b88b6","#5080be","#0000ff"]}}}},
{"data":{"name":"cells"},"transform":[{"flatten":["r"]}],"mark":{"type":"rect","xOffset":-5.6,"x2Offset":5.6,"yOffset":5.6,"y2Offset":-5.6},
"encoding":{"x":{"field":"y","type":"quantitative","scale":{"domain":[0.5,153.5],"nice":false,"zero":false},"axis":null},"x2":{"field":"y"},"y":{"field":"r[0]","type":"quantitative","scale":{"domain":[0.5,153.5],"nice":false,"zero":false},"axis":null},"y2":{"field":"r[1]"},"color":{"field":"r[2]","type":"quantitative","legend":null,"scale":{"type":"threshold","domain":[2.055,3.335,4.615,5.895,7.175,8.455,9.735,11.015,12.295,13.575,14.855,16.135,17.415,18.695,19.975],"range":["#ff0000","#ff2000","#ff4b00","#ff6a00","#ff8c00","#ffa500","#a8c07e","#9db886","#92b08e","#87a896","#7ca09e","#7198a6","#6690ae","#5b88b6","#5080be","#0000ff"]}}}}
]},
{"width":7,"height":1663,"data":{"name":"bar"},
"layer":[
{"mark":{"type":"rect"},"encoding":{"x":{"datum":0,"type":"quantitative","scale":{"domain":[0,7],"range":[0,7]},"axis":null},"x2":{"datum":7},"y":{"field":"lo","type":"quantitative","scale":{"domain":[0.775,21.255],"nice":false,"zero":false},"axis":{"orient":"right","title":null,"values":[5,10,15,20],"format":"d","domain":false,"tickSize":10,"tickWidth":4,"labelFontSize":48,"labelPadding":0,"labelFlush":false}},"y2":{"field":"hi"},"color":{"field":"v","type":"quantitative","legend":null,"scale":{"type":"threshold","domain":[2.055,3.335,4.615,5.895,7.175,8.455,9.735,11.015,12.295,13.575,14.855,16.135,17.415,18.695,19.975],"range":["#ff0000","#ff2000","#ff4b00","#ff6a00","#ff8c00","#ffa500","#a8c07e","#9db886","#92b08e","#87a896","#7ca09e","#7198a6","#6690ae","#5b88b6","#5080be","#0000ff"]}}}},
{"transform":[{"filter":"datum.v==1"}],"mark":{"type":"rect","fillOpacity":0,"stroke":"black","strokeWidth":5,"xOffset":-2.5,"x2Offset":2.5,"yOffset":2.5,"y2Offset":-2.5},"encoding":{"x":{"datum":0,"type":"quantitative"},"x2":{"datum":7},"y":{"datum":0.775,"type":"quantitative"},"y2":{"datum":21.255}}}
]}
]}
